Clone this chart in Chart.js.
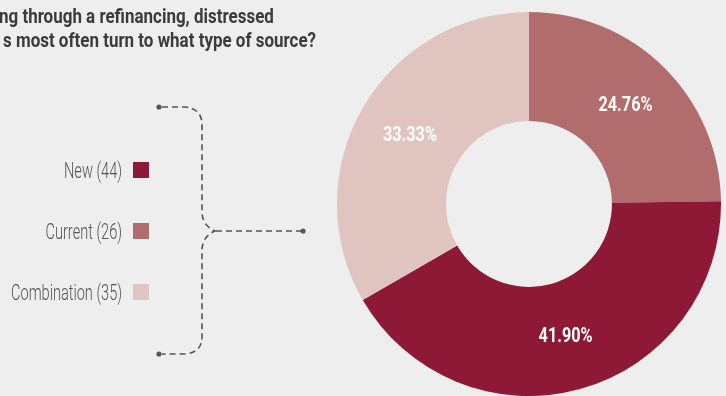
<!DOCTYPE html>
<html>
<head>
<meta charset="utf-8">
<script src="https://cdn.jsdelivr.net/npm/chart.js@4"></script>
<style>
  html, body { margin: 0; padding: 0; background: #eeeeee; }
  #wrap { width: 726px; height: 396px; position: relative; }
</style>
</head>
<body>
<div id="wrap"><canvas id="myChart"></canvas></div>
<script>
// categories in legend order, with their counts and colours
const categories = ['New', 'Current', 'Combination'];
const counts = [44, 26, 35];
const sliceColors = ['#8e1937', '#b16d6d', '#e0c4c0'];
// order the slices are laid out clockwise from 12 o'clock
const sliceOrder = [1, 0, 2];
const titleLines = ['ng through a refinancing, distressed', 's most often turn to what type of source?'];

const total = counts.reduce((a, b) => a + b, 0);

// draw text squeezed horizontally so it looks like a condensed face
function squeezeText(ctx, text, x, y, sx, align) {
  ctx.save();
  ctx.translate(x, y);
  ctx.scale(sx, 1);
  ctx.textAlign = align;
  ctx.fillText(text, 0, 0);
  ctx.restore();
}

function dot(ctx, x, y) {
  ctx.beginPath();
  ctx.arc(x, y, 2.6, 0, Math.PI * 2);
  ctx.fill();
}

const sidePlugin = {
  id: 'sidePlugin',
  beforeDraw(chart) {
    const ctx = chart.ctx;
    ctx.save();
    ctx.fillStyle = '#eeeeee';
    ctx.fillRect(0, 0, chart.width, chart.height);

    // title (cut at the left edge)
    ctx.fillStyle = '#3b3b3b';
    ctx.font = 'bold 21px Roboto';
    ctx.textBaseline = 'alphabetic';
    let sx = 313 / ctx.measureText(titleLines[1]).width;
    squeezeText(ctx, titleLines[0], -1, 23, sx, 'left');
    squeezeText(ctx, titleLines[1], 3, 47, sx, 'left');

    // legend
    ctx.font = '300 22px Roboto';
    let lx = 111 / ctx.measureText('Combination (35)').width;
    categories.forEach((c, i) => {
      const cy = 170 + i * 61;
      ctx.fillStyle = '#555555';
      squeezeText(ctx, c + ' (' + counts[i] + ')', 122, cy + 7.8, lx, 'right');
      ctx.fillStyle = sliceColors[i];
      ctx.fillRect(133, cy - 8, 16, 16);
    });

    // dashed bracket pointing at the doughnut
    ctx.strokeStyle = '#555555';
    ctx.fillStyle = '#555555';
    ctx.lineWidth = 1.6;
    ctx.setLineDash([6, 4]);
    ctx.beginPath();
    ctx.moveTo(162, 107);
    ctx.lineTo(186, 107);
    ctx.quadraticCurveTo(202, 109, 202, 125);
    ctx.lineTo(202, 213);
    ctx.quadraticCurveTo(203, 226, 215, 231);
    ctx.quadraticCurveTo(203, 236, 202, 249);
    ctx.lineTo(202, 337);
    ctx.quadraticCurveTo(202, 352, 186, 354);
    ctx.lineTo(162, 354);
    ctx.moveTo(216, 231);
    ctx.lineTo(301, 231);
    ctx.stroke();
    ctx.setLineDash([]);
    dot(ctx, 159, 107);
    dot(ctx, 159, 354);
    dot(ctx, 303, 231);
    ctx.restore();
  },
  afterDatasetsDraw(chart) {
    const ctx = chart.ctx;
    const meta = chart.getDatasetMeta(0);
    const vals = chart.data.datasets[0].data;
    ctx.save();
    ctx.fillStyle = '#ffffff';
    ctx.font = 'bold 21px Roboto';
    ctx.textBaseline = 'middle';
    let px = 54 / ctx.measureText('24.76%').width;
    meta.data.forEach((arc, i) => {
      const p = arc.tooltipPosition();
      const txt = (vals[i] / total * 100).toFixed(2) + '%';
      squeezeText(ctx, txt, p.x, p.y, px, 'center');
    });
    ctx.restore();
  }
};

const myChart = new Chart(document.getElementById('myChart'), {
  type: 'doughnut',
  data: {
    labels: sliceOrder.map(i => categories[i]),
    datasets: [{
      data: sliceOrder.map(i => counts[i]),
      backgroundColor: sliceOrder.map(i => sliceColors[i]),
      borderWidth: 0
    }]
  },
  options: {
    responsive: true,
    maintainAspectRatio: false,
    animation: false,
    cutout: '43.2%',
    layout: { padding: { left: 337, right: 5, top: 12, bottom: 0 } },
    plugins: {
      legend: { display: false },
      tooltip: { enabled: false }
    }
  },
  plugins: [sidePlugin]
});
</script>
</body>
</html>
